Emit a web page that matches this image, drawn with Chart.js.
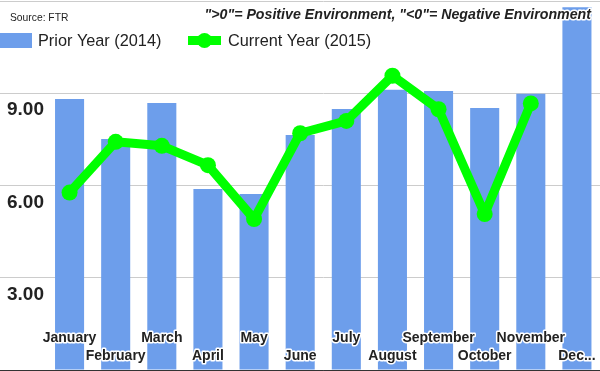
<!DOCTYPE html>
<html>
<head>
<meta charset="utf-8">
<script src="https://cdn.jsdelivr.net/npm/chart.js@4.4.1/dist/chart.umd.min.js"></script>
<style>
  html, body { margin: 0; padding: 0; background: #fff; }
  .wrap { position: relative; width: 600px; height: 371px; }
</style>
</head>
<body>
<div class="wrap"><canvas id="freight"></canvas></div>
<script>
const months = ['January', 'February', 'March', 'April', 'May', 'June',
  'July', 'August', 'September', 'October', 'November', 'December'];
const priorYear = [8.81, 7.51, 8.68, 5.89, 5.72, 7.64, 8.49, 9.11, 9.07, 8.52, 8.98, 11.80];
const currentYear = [5.77, 7.42, 7.29, 6.66, 4.91, 7.70, 8.10, 9.57, 8.48, 5.07, 8.67, null];
const yTicks = [3, 6, 9];
const sourceNote = 'Source: FTR';
const signNote = '">0"= Positive Environment, "<0"= Negative Environment';

const FONT = '"Liberation Sans", Arial, sans-serif';
const BLUE = '#6d9eeb';
const GREEN = '#00ff00';
const INK = '#222';

// notes + legend sit inside the plot, on top of the bars
const overlay = {
  id: 'overlay',
  beforeDraw(chart) {
    // round joins so the white halo round the tick labels has no spikes
    chart.ctx.lineJoin = 'round';
  },
  afterDraw(chart) {
    const c = chart.ctx;
    const ds = chart.data.datasets;
    c.save();
    c.textBaseline = 'middle';
    c.lineJoin = 'round';

    c.fillStyle = INK;
    c.textAlign = 'left';
    c.font = '10.3px ' + FONT;
    c.fillText(sourceNote, 10, 18);

    c.font = 'italic bold 14.2px ' + FONT;
    c.textAlign = 'right';
    c.strokeStyle = '#fff';
    c.lineWidth = 3;
    c.strokeText(signNote, 591, 15);
    c.fillText(signNote, 591, 15);

    // legend
    const bars = ds.find(d => d.type !== 'line');
    const line = ds.find(d => d.type === 'line');
    c.textAlign = 'left';
    c.font = '16.3px ' + FONT;

    c.fillStyle = bars.backgroundColor;
    c.fillRect(0, 33, 32, 15);
    c.fillStyle = INK;
    c.fillText(bars.label, 38, 42);

    c.strokeStyle = line.borderColor;
    c.lineWidth = 9;
    c.lineCap = 'butt';
    c.beginPath();
    c.moveTo(188, 40.5);
    c.lineTo(221, 40.5);
    c.stroke();
    c.fillStyle = line.borderColor;
    c.beginPath();
    c.arc(204.5, 40.5, 7.5, 0, Math.PI * 2);
    c.fill();
    c.fillStyle = INK;
    c.fillText(line.label, 228, 42);
    c.restore();
  }
};

new Chart(document.getElementById('freight'), {
  type: 'bar',
  data: {
    labels: months,
    datasets: [
      {
        type: 'line',
        label: 'Current Year (2015)',
        data: currentYear,
        borderColor: GREEN,
        backgroundColor: GREEN,
        borderWidth: 9,
        borderJoinStyle: 'round',
        pointRadius: 8,
        pointBorderWidth: 0,
        pointBackgroundColor: GREEN,
        tension: 0,
        order: 0
      },
      {
        type: 'bar',
        label: 'Prior Year (2014)',
        data: priorYear,
        backgroundColor: BLUE,
        borderWidth: 0,
        barPercentage: 0.63,
        categoryPercentage: 1,
        order: 1
      }
    ]
  },
  options: {
    responsive: true,
    maintainAspectRatio: false,
    animation: false,
    layout: { autoPadding: false, padding: { top: 1, bottom: 1, left: 0, right: 0 } },
    plugins: { legend: { display: false }, tooltip: { enabled: false } },
    scales: {
      x: {
        grid: { display: false },
        border: { display: true, color: '#333', width: 1 },
        afterFit: s => {
          s.height = 0;
          s.paddingLeft = 0;
          s.paddingRight = 0;
        },
        ticks: {
          autoSkip: false,
          maxRotation: 0,
          minRotation: 0,
          mirror: true,   // labels go up into the plot, no clipping to the axis box
          z: 1,
          padding: 23,
          color: INK,
          textStrokeColor: '#fff',
          textStrokeWidth: 3,
          font: { family: FONT, size: 14, weight: 'bold', lineHeight: '18px' },
          callback(value, index) {
            let name = this.getLabelForValue(value);
            if (index === months.length - 1) name = name.slice(0, 3) + '...';
            return index % 2 === 0 ? [name] : ['', name];
          }
        }
      },
      y: {
        min: 0,
        max: 12,
        afterFit: s => {
          s.width = 46.5;
          s.paddingTop = 0;
          s.paddingBottom = 0;
        },
        border: { display: false },
        grid: {
          color: ctx => (ctx.tick && ctx.tick.value === 0 ? '#333' : '#ccc'),
          drawTicks: true,
          tickLength: 47
        },
        ticks: {
          stepSize: 3,
          padding: -44.5,
          color: INK,
          font: { family: FONT, size: 19, weight: 'bold', lineHeight: '34px' },
          callback: v => (yTicks.includes(v) ? ['', v.toFixed(2)] : '')
        }
      }
    }
  },
  plugins: [overlay]
});
</script>
</body>
</html>
